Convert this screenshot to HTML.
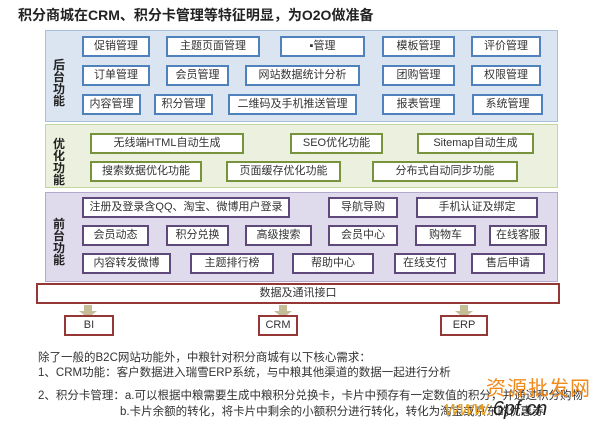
<!DOCTYPE html>
<html><head><meta charset="utf-8"><style>
body{margin:0;width:600px;height:427px;background:#fff;position:relative;overflow:hidden;font-family:"Liberation Sans","Noto Sans CJK SC",sans-serif;}
div{position:absolute;box-sizing:border-box;}
.t{left:18px;top:5px;font-size:14px;font-weight:bold;color:#222;white-space:nowrap;}
.p{left:45px;width:513px;}
.b{background:#fff;font-size:11px;color:#333;text-align:center;white-space:nowrap;height:21px;line-height:17px;}
.bl{border:2px solid #4f81bd;}
.gr{border:2px solid #77933c;}
.pu{border:2px solid #5f497a;}
.rd{border:2px solid #953735;}
.lab{font-size:12px;font-weight:bold;color:#222;width:14px;line-height:12px;text-align:center;}
.tx{font-size:11.5px;color:#333;white-space:nowrap;}
.ar{width:0;height:0;border-left:9px solid transparent;border-right:9px solid transparent;border-top:7px solid #c4bd97;}
.st{width:8px;height:6px;background:#c4bd97;}
</style></head><body>
<div class="t">积分商城在CRM、积分卡管理等特征明显，为O2O做准备</div>

<div class="p" style="top:30px;height:92px;background:#dbe5f1;border:1px solid #a9c0dc;"></div>
<div class="lab" style="left:52px;top:59px;">后台功能</div>
<div class="b bl" style="left:82px;top:36px;width:68px;">促销管理</div>
<div class="b bl" style="left:166px;top:36px;width:94px;">主题页面管理</div>
<div class="b bl" style="left:280px;top:36px;width:85px;">▪管理</div>
<div class="b bl" style="left:382px;top:36px;width:73px;">模板管理</div>
<div class="b bl" style="left:471px;top:36px;width:70px;">评价管理</div>
<div class="b bl" style="left:82px;top:65px;width:68px;">订单管理</div>
<div class="b bl" style="left:166px;top:65px;width:63px;">会员管理</div>
<div class="b bl" style="left:245px;top:65px;width:115px;">网站数据统计分析</div>
<div class="b bl" style="left:382px;top:65px;width:73px;">团购管理</div>
<div class="b bl" style="left:471px;top:65px;width:70px;">权限管理</div>
<div class="b bl" style="left:82px;top:94px;width:59px;">内容管理</div>
<div class="b bl" style="left:154px;top:94px;width:59px;">积分管理</div>
<div class="b bl" style="left:228px;top:94px;width:129px;">二维码及手机推送管理</div>
<div class="b bl" style="left:382px;top:94px;width:73px;">报表管理</div>
<div class="b bl" style="left:472px;top:94px;width:71px;">系统管理</div>

<div class="p" style="top:124px;height:64px;background:#ebf1de;border:1px solid #c3d69b;"></div>
<div class="lab" style="left:52px;top:138px;">优化功能</div>
<div class="b gr" style="left:90px;top:133px;width:154px;">无线端HTML自动生成</div>
<div class="b gr" style="left:290px;top:133px;width:93px;">SEO优化功能</div>
<div class="b gr" style="left:417px;top:133px;width:117px;">Sitemap自动生成</div>
<div class="b gr" style="left:90px;top:161px;width:112px;">搜索数据优化功能</div>
<div class="b gr" style="left:226px;top:161px;width:115px;">页面缓存优化功能</div>
<div class="b gr" style="left:372px;top:161px;width:146px;">分布式自动同步功能</div>

<div class="p" style="top:192px;height:90px;background:#e0dbec;border:1px solid #b3a9cc;"></div>
<div class="lab" style="left:52px;top:218px;">前台功能</div>
<div class="b pu" style="left:82px;top:197px;width:208px;">注册及登录含QQ、淘宝、微博用户登录</div>
<div class="b pu" style="left:328px;top:197px;width:70px;">导航导购</div>
<div class="b pu" style="left:416px;top:197px;width:122px;">手机认证及绑定</div>
<div class="b pu" style="left:82px;top:225px;width:67px;">会员动态</div>
<div class="b pu" style="left:166px;top:225px;width:63px;">积分兑换</div>
<div class="b pu" style="left:245px;top:225px;width:67px;">高级搜索</div>
<div class="b pu" style="left:328px;top:225px;width:70px;">会员中心</div>
<div class="b pu" style="left:415px;top:225px;width:61px;">购物车</div>
<div class="b pu" style="left:489px;top:225px;width:58px;">在线客服</div>
<div class="b pu" style="left:82px;top:253px;width:89px;">内容转发微博</div>
<div class="b pu" style="left:190px;top:253px;width:84px;">主题排行榜</div>
<div class="b pu" style="left:292px;top:253px;width:82px;">帮助中心</div>
<div class="b pu" style="left:394px;top:253px;width:62px;">在线支付</div>
<div class="b pu" style="left:471px;top:253px;width:74px;">售后申请</div>

<div class="b rd" style="left:36px;top:283px;width:524px;">数据及通讯接口</div>

<div class="st" style="left:84px;top:305px;"></div><div class="ar" style="left:79px;top:311px;"></div>
<div class="st" style="left:279px;top:305px;"></div><div class="ar" style="left:274px;top:311px;"></div>
<div class="st" style="left:460px;top:305px;"></div><div class="ar" style="left:455px;top:311px;"></div>

<div class="b rd" style="left:64px;top:315px;width:50px;">BI</div>
<div class="b rd" style="left:258px;top:315px;width:40px;">CRM</div>
<div class="b rd" style="left:440px;top:315px;width:48px;">ERP</div>

<div class="tx" style="left:38px;top:349px;">除了一般的B2C网站功能外，中粮针对积分商城有以下核心需求：</div>
<div class="tx" style="left:38px;top:364px;">1、CRM功能：客户数据进入瑞雪ERP系统，与中粮其他渠道的数据一起进行分析</div>
<div class="tx" style="left:38px;top:387px;">2、积分卡管理：a.可以根据中粮需要生成中粮积分兑换卡，卡片中预存有一定数值的积分，并通过积分购物</div>
<div class="tx" style="left:120px;top:403px;">b.卡片余额的转化，将卡片中剩余的小额积分进行转化，转化为淘宝或京东的优惠券</div>
<div style="left:486px;top:372px;font-size:20px;color:#f08a1c;letter-spacing:1px;white-space:nowrap;">资源批发网</div>
<div style="left:445px;top:398px;font-size:20px;color:#222;font-style:italic;white-space:nowrap;"><span style="color:#e8a020;">www.</span>6pf.cn</div>
</body></html>
